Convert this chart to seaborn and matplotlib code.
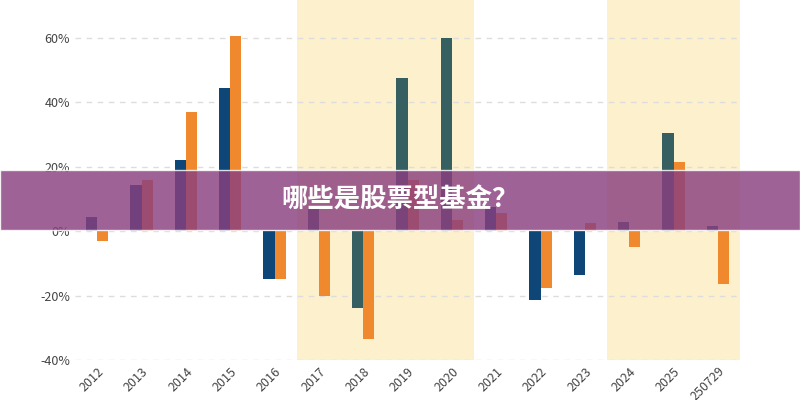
import matplotlib
matplotlib.use("Agg")
import matplotlib.pyplot as plt
import seaborn as sns
import pandas as pd
from matplotlib.patches import Rectangle

years = ["2012","2013","2014","2015","2016","2017","2018","2019","2020","2021","2022","2023","2024","2025","250729"]
fund_a = [4.5, 14.5, 22, 44.5, -15, 7, -24, 47.5, 60, 7.5, -21.5, -13.5, 3, 30.5, 1.5]
fund_b = [-3, 16, 37, 60.5, -15, -20, -33.5, 16, 3.4, 5.5, -17.5, 2.5, -5, 21.5, -16.5]
teal_years = ["2017","2018","2019","2020","2024","2025","250729"]
shade_ranges = [("2017","2020"), ("2024","250729")]
yticks = [-40, -20, 0, 20, 40, 60]
title = "哪些是股票型基金？"

sns.set_theme(style="white")
plt.rcParams['font.family'] = ['Noto Sans CJK SC', 'DejaVu Sans']

df = pd.DataFrame({"year": years*2, "val": fund_a+fund_b,
                   "s": ["A"]*len(years)+["B"]*len(years)})
fig = plt.figure(figsize=(8,4), dpi=100)
ax = fig.add_axes([75/800, 40/400, 665/800, 360/400])
for a, b in shade_ranges:
    ax.axvspan(years.index(a)-0.5, years.index(b)+0.5, color="#fdf0cc", zorder=0, lw=0)
sns.barplot(data=df, x="year", y="val", hue="s", ax=ax, width=0.5,
            palette={"A":"#0d4677","B":"#f0882d"}, legend=False, zorder=3,
            saturation=1, linewidth=0)
n = len(years)
for i, p in enumerate(ax.containers[0]):
    if years[i] in teal_years:
        p.set_facecolor("#355f61")
ax.set_ylim(-40, 71.8)
ax.set_xlim(-0.5, n-0.5)
ax.set_yticks(yticks)
ax.set_yticklabels([f"{t}%" for t in yticks], color="#444444", fontsize=9)
ax.yaxis.grid(True, linestyle=(0,(4,4)), color="#dddddd", zorder=1)
ax.set_xticks(range(n))
ax.set_xticklabels(years, rotation=45, ha="right", rotation_mode="anchor", color="#444444", fontsize=9)
ax.set_xlabel(""); ax.set_ylabel("")
for s in ax.spines.values():
    s.set_visible(False)
ax.tick_params(axis="both", length=0)

fig.patches.append(Rectangle((0, 170/400), 1, 60/400, transform=fig.transFigure,
                             facecolor="#8a3f80", alpha=0.82, zorder=10))
fig.text(0.5, 200/400, title, ha="center", va="center", color="white",
         fontsize=19, fontweight="heavy", zorder=11)
fig.savefig("out.png", dpi=100)
